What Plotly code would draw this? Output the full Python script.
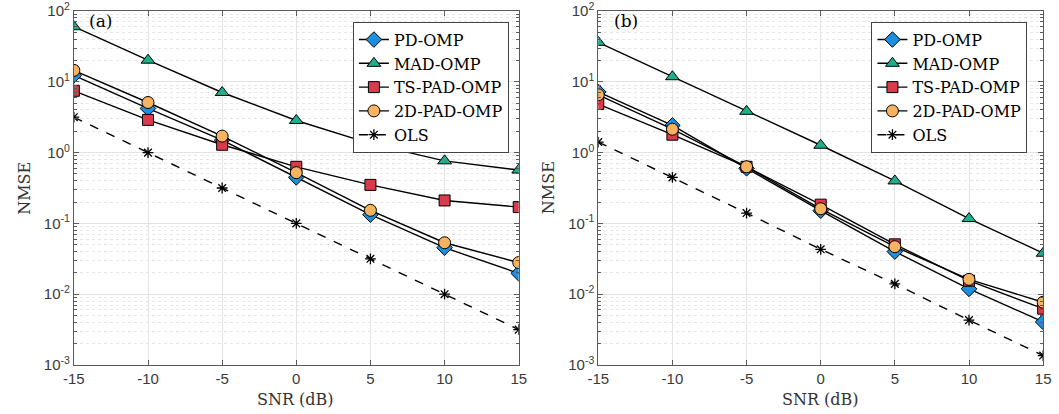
import plotly.graph_objects as go

snr = [-15, -10, -5, 0, 5, 10, 15]
series_names = ["PD-OMP", "MAD-OMP", "TS-PAD-OMP", "2D-PAD-OMP", "OLS"]

# Panel (a)
a_pd = [12.3, 4.2, 1.5, 0.447, 0.133, 0.0454, 0.0197]
a_mad = [60.0, 20.2, 7.06, 2.84, 1.34, 0.765, 0.567]
a_ts = [7.46, 2.9, 1.29, 0.63, 0.35, 0.211, 0.17]
a_2d = [14.5, 5.1, 1.71, 0.52, 0.153, 0.0533, 0.028]
a_ols = [3.16, 1.0, 0.316, 0.1, 0.0316, 0.01, 0.00316]

# Panel (b)
b_pd = [7.2, 2.42, 0.6, 0.151, 0.040, 0.0119, 0.00406]
b_mad = [36.1, 11.8, 3.83, 1.27, 0.398, 0.117, 0.0379]
b_ts = [4.85, 1.79, 0.63, 0.184, 0.0506, 0.0155, 0.00625]
b_2d = [6.56, 2.14, 0.63, 0.161, 0.0469, 0.0162, 0.0077]
b_ols = [1.41, 0.447, 0.14, 0.0431, 0.014, 0.0043, 0.00136]

xticks = [-15, -10, -5, 0, 5, 10, 15]
xticktext = ["-15", "-10", "-5", "0", "5", "10", "15"]
yticks = [1e-3, 1e-2, 1e-1, 1e0, 1e1, 1e2]
yticktext = ["10<sup>-3</sup>", "10<sup>-2</sup>", "10<sup>-1</sup>", "10<sup>0</sup>",
             "10<sup>1</sup>", "10<sup>2</sup>"]
minor_vals = [k * 10 ** e for e in range(-3, 2) for k in range(2, 10)]

colors = ["#1b8fe0", "#1fae8a", "#d93a4c", "#f7b35f", "black"]
symbols = ["diamond", "triangle-up", "square", "circle", "asterisk"]
sizes = [12, 12, 11, 12, 9]

SERIF = "DejaVu Serif"
SANS = "Liberation Sans"

fig = go.Figure()

panels = [
    ([a_pd, a_mad, a_ts, a_2d, a_ols], "x", "y", "legend"),
    ([b_pd, b_mad, b_ts, b_2d, b_ols], "x2", "y2", "legend2"),
]
for data, xa, ya, lg in panels:
    for i, (name, vals) in enumerate(zip(series_names, data)):
        is_ols = name == "OLS"
        fig.add_trace(go.Scatter(
            x=snr, y=vals, name=name, mode="lines+markers",
            xaxis=xa, yaxis=ya, legend=lg,
            line=dict(color="black", width=1.4, dash="dash" if is_ols else "solid"),
            marker=dict(symbol=symbols[i], size=sizes[i], color=colors[i],
                        line=dict(color="black", width=1.3 if is_ols else 1)),
        ))

axis_line = "#5a5a5a"
grid_major = "#e3e3e3"
grid_minor = "#e6e6e6"


def xaxis(domain, anchor):
    return dict(domain=domain, anchor=anchor, range=[-15, 15], tickvals=xticks,
                ticktext=xticktext,
                showgrid=True, gridcolor=grid_major, gridwidth=1, zeroline=False,
                showline=True, linecolor=axis_line, linewidth=1, mirror="allticks",
                ticks="inside", ticklen=5, tickcolor=axis_line,
                tickfont=dict(family=SANS, size=15, color="#3a3a3a"))


def yaxis(anchor):
    return dict(domain=[0, 1], anchor=anchor, type="log", range=[-3, 2],
                tickvals=yticks, ticktext=yticktext, ticklabeloverflow="allow",
                showgrid=True, gridcolor=grid_major, gridwidth=1, zeroline=False,
                showline=True, linecolor=axis_line, linewidth=1, mirror="allticks",
                ticks="inside", ticklen=5, tickcolor=axis_line,
                tickfont=dict(family=SANS, size=15, color="#3a3a3a"),
                minor=dict(tickvals=minor_vals, ticks="inside", ticklen=3,
                           tickcolor=axis_line, showgrid=True, gridcolor=grid_minor,
                           griddash="dot", gridwidth=1))


W, H = 1059, 414
legend_style = dict(font=dict(family=SERIF, size=16, color="black"),
                    bgcolor="white", bordercolor="#444", borderwidth=1,
                    xanchor="right", yanchor="top", tracegroupgap=0,
                    itemwidth=30)

fig.update_layout(
    width=W, height=H,
    margin=dict(l=0, r=0, t=6, b=49),
    paper_bgcolor="white", plot_bgcolor="white",
    xaxis=xaxis([64 / W, 517 / W], "y"),
    yaxis=yaxis("x"),
    xaxis2=xaxis([598 / W, 1051 / W], "y2"),
    yaxis2=yaxis("x2"),
    legend=dict(x=507 / W, y=0.97, **legend_style),
    legend2=dict(x=1035 / W, y=0.97, **legend_style),
    annotations=[
        dict(text="(a)", x=-14.1, y=1.86, xref="x", yref="y", showarrow=False,
             xanchor="left", font=dict(family=SERIF, size=17, color="black")),
        dict(text="(b)", x=-14.1, y=1.86, xref="x2", yref="y2", showarrow=False,
             xanchor="left", font=dict(family=SERIF, size=17, color="black")),
        dict(text="NMSE", x=13 / W, y=0.5, xref="paper", yref="paper", showarrow=False,
             xanchor="center", yanchor="middle",
             textangle=-90, font=dict(family=SERIF, size=16, color="#333")),
        dict(text="NMSE", x=547 / W, y=0.5, xref="paper", yref="paper", showarrow=False,
             xanchor="center", yanchor="middle",
             textangle=-90, font=dict(family=SERIF, size=16, color="#333")),
        dict(text="SNR (dB)", x=290 / W, y=-0.0975, xref="paper", yref="paper",
             xanchor="center", yanchor="middle",
             showarrow=False, font=dict(family=SERIF, size=16, color="#333")),
        dict(text="SNR (dB)", x=824 / W, y=-0.0975, xref="paper", yref="paper",
             xanchor="center", yanchor="middle",
             showarrow=False, font=dict(family=SERIF, size=16, color="#333")),
    ],
)

fig.write_html("out.html")
